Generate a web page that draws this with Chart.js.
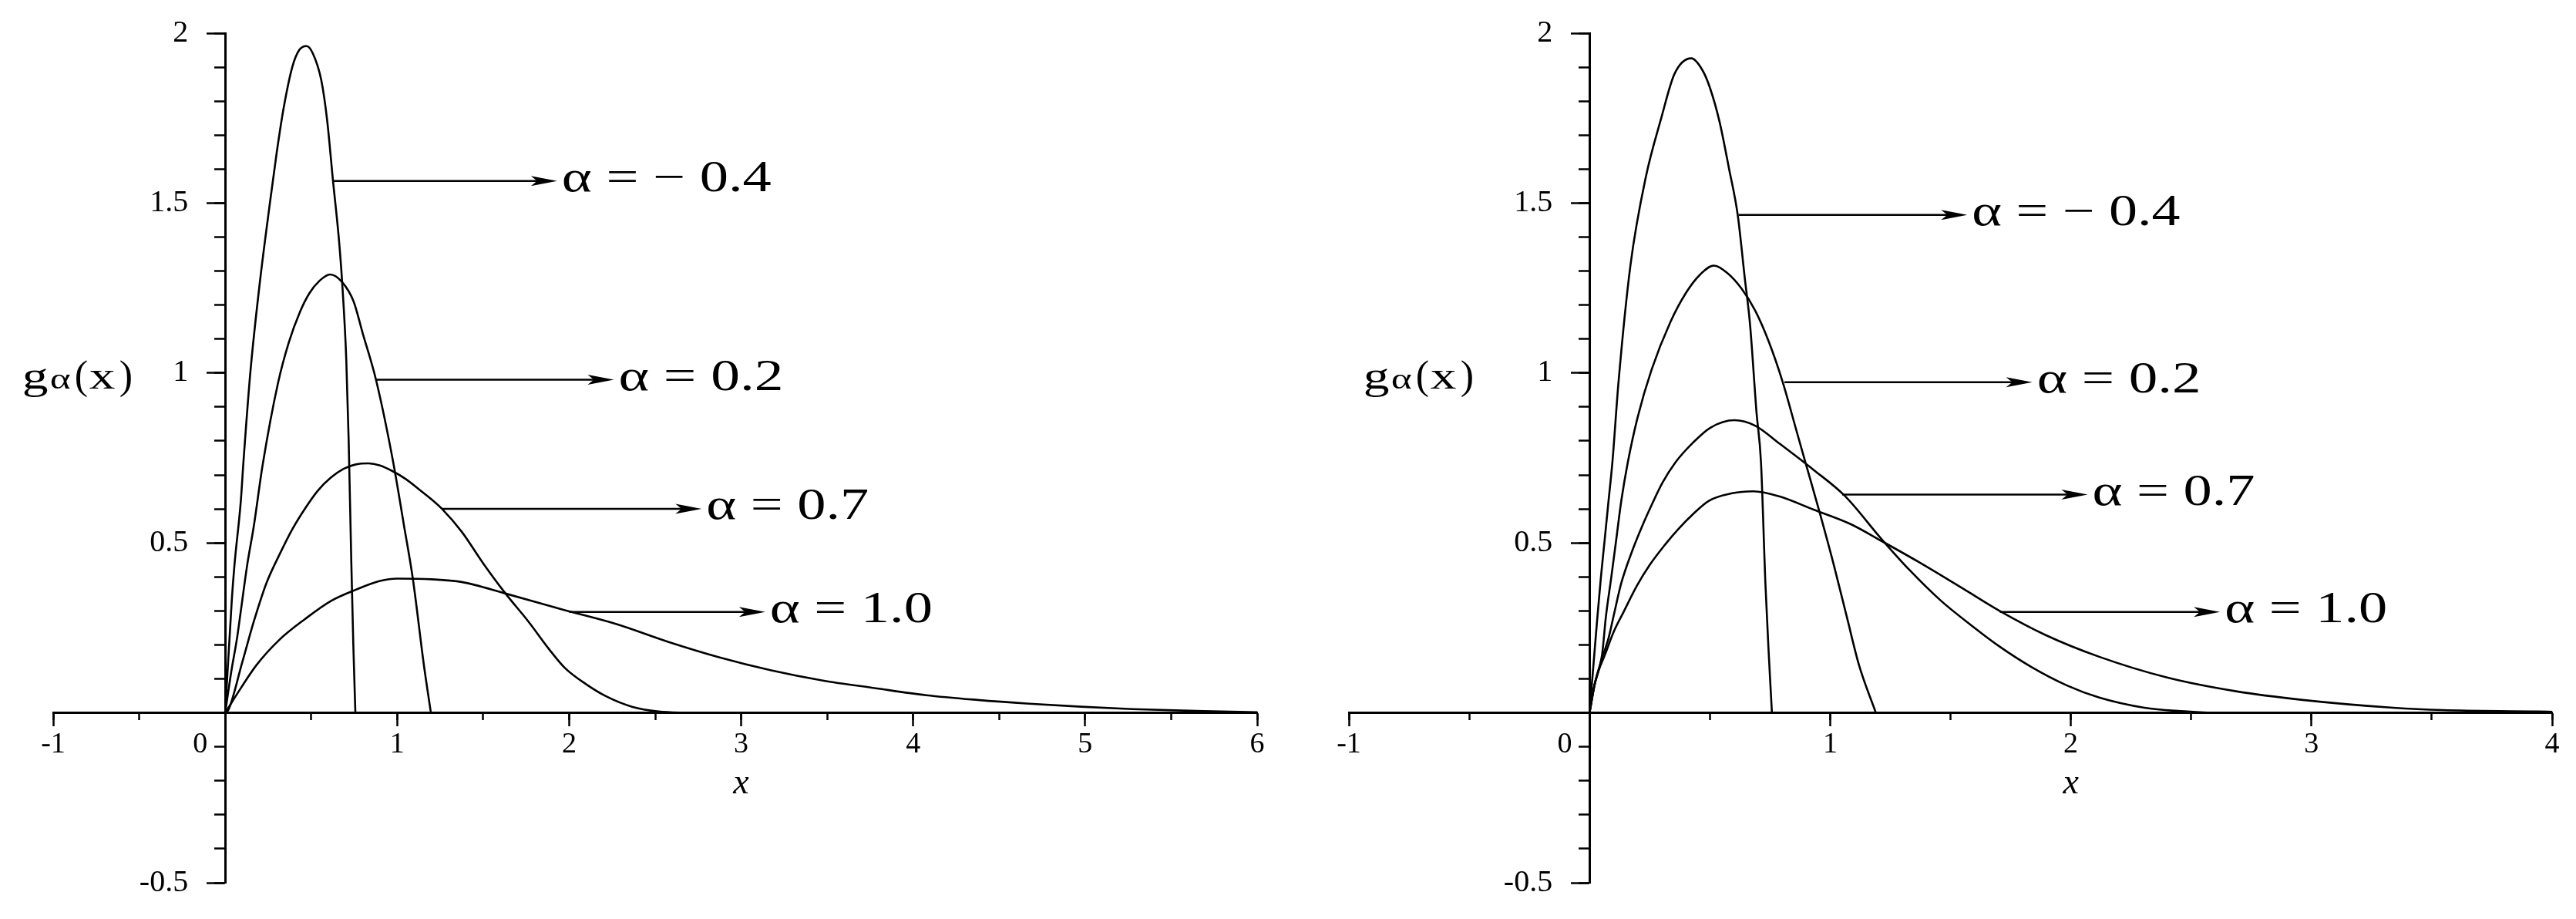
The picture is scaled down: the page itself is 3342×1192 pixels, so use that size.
<!DOCTYPE html>
<html>
<head>
<meta charset="utf-8">
<script src="https://cdn.jsdelivr.net/npm/chart.js@4/dist/chart.umd.min.js"></script>
<style>
    html, body { margin: 0; padding: 0; background: #fff; overflow: hidden; }
    #wrap { position: relative; width: 3342px; height: 1192px; }
    .panel { position: absolute; top: 0; width: 1671px; height: 1192px; }
</style>
</head>
<body>
<div id="wrap">
    <div class="panel" style="left:0"><canvas id="leftChart" width="1671" height="1192"></canvas></div>
    <div class="panel" style="left:1671px"><canvas id="rightChart" width="1671" height="1192"></canvas></div>
</div>
<script>
// tick values
const leftXTicks = [-1, 0, 1, 2, 3, 4, 5, 6];
const rightXTicks = [-1, 0, 1, 2, 3, 4];
const yTicks = [-0.5, 0.5, 1, 1.5, 2];
const yTickLabels = ['-0.5', '0.5', '1', '1.5', '2'];

// left panel curves
const leftNeg04X = [0, 0.039, 0.054, 0.091, 0.106, 0.146, 0.20, 0.26, 0.30, 0.34, 0.39, 0.43, 0.473, 0.51, 0.559, 0.593, 0.627, 0.66, 0.679, 0.704, 0.718, 0.733, 0.745, 0.757];
const leftNeg04Y = [0, 0.336, 0.435, 0.624, 0.737, 1.0, 1.26, 1.50, 1.65, 1.78, 1.90, 1.95, 1.962, 1.94, 1.861, 1.743, 1.565, 1.40, 1.275, 1.04, 0.80, 0.45, 0.20, 0];

const leftP02X = [0, 0.035, 0.069, 0.091, 0.128, 0.166, 0.218, 0.307, 0.37, 0.435, 0.49, 0.55, 0.61, 0.679, 0.747, 0.799, 0.876, 0.976, 1.04, 1.091, 1.156, 1.196];
const leftP02Y = [0, 0.12, 0.22, 0.30, 0.435, 0.548, 0.73, 0.97, 1.09, 1.18, 1.235, 1.272, 1.29, 1.268, 1.21, 1.118, 0.982, 0.74, 0.55, 0.395, 0.138, 0];

const leftP07X = [0, 0.02, 0.1, 0.166, 0.24, 0.315, 0.39, 0.464, 0.539, 0.614, 0.688, 0.76, 0.833, 0.9, 0.97, 1.05, 1.141, 1.2, 1.261, 1.375, 1.5, 1.63, 1.764, 1.885, 1.975, 2.096, 2.217, 2.365, 2.52, 2.7];
const leftP07Y = [0, 0.01, 0.15, 0.268, 0.382, 0.465, 0.54, 0.601, 0.654, 0.692, 0.718, 0.731, 0.734, 0.728, 0.712, 0.688, 0.652, 0.628, 0.6, 0.533, 0.44, 0.351, 0.268, 0.186, 0.132, 0.085, 0.048, 0.018, 0.004, 0];

const leftP10X = [0, 0.09, 0.181, 0.315, 0.464, 0.614, 0.763, 0.9, 1.0, 1.2, 1.375, 1.63, 1.975, 2.275, 2.575, 2.875, 3.175, 3.475, 3.775, 4.075, 4.375, 4.675, 4.975, 5.275, 5.69, 6.0];
const leftP10Y = [0, 0.072, 0.14, 0.215, 0.276, 0.329, 0.363, 0.388, 0.395, 0.393, 0.385, 0.351, 0.302, 0.261, 0.209, 0.163, 0.125, 0.095, 0.073, 0.052, 0.038, 0.027, 0.018, 0.011, 0.005, 0.002];

// right panel curves
const rightNeg04X = [0, 0.031, 0.047, 0.063, 0.079, 0.095, 0.12, 0.17, 0.234, 0.298, 0.353, 0.423, 0.47, 0.50, 0.54, 0.58, 0.616, 0.645, 0.667, 0.694, 0.7125, 0.731, 0.745, 0.758];
const rightNeg04Y = [0, 0.268, 0.397, 0.51, 0.624, 0.737, 0.97, 1.317, 1.577, 1.75, 1.88, 1.926, 1.89, 1.84, 1.74, 1.60, 1.464, 1.28, 1.143, 0.883, 0.737, 0.378, 0.17, 0];

const rightP02X = [0, 0.02, 0.052, 0.068, 0.09, 0.111, 0.132, 0.159, 0.2, 0.258, 0.336, 0.4, 0.46, 0.516, 0.573, 0.631, 0.688, 0.745, 0.802, 0.86, 0.9, 0.96, 1.017, 1.07, 1.12, 1.19];
const rightP02Y = [0, 0.08, 0.17, 0.283, 0.397, 0.51, 0.624, 0.737, 0.87, 1.01, 1.15, 1.235, 1.29, 1.316, 1.294, 1.249, 1.184, 1.092, 0.975, 0.83, 0.73, 0.58, 0.43, 0.28, 0.14, 0];

const rightP07X = [0, 0.02, 0.047, 0.079, 0.1, 0.132, 0.175, 0.218, 0.261, 0.303, 0.357, 0.43, 0.502, 0.602, 0.688, 0.788, 0.931, 1.06, 1.215, 1.33, 1.46, 1.591, 1.704, 1.836, 1.986, 2.118, 2.306, 2.456, 2.6];
const rightP07Y = [0, 0.08, 0.15, 0.22, 0.285, 0.382, 0.472, 0.548, 0.616, 0.677, 0.737, 0.795, 0.839, 0.861, 0.845, 0.793, 0.715, 0.639, 0.51, 0.42, 0.33, 0.255, 0.195, 0.135, 0.08, 0.045, 0.015, 0.005, 0];

const rightP10X = [0, 0.025, 0.068, 0.1, 0.143, 0.197, 0.25, 0.314, 0.368, 0.432, 0.496, 0.592, 0.681, 0.788, 0.931, 1.083, 1.215, 1.365, 1.553, 1.704, 1.892, 2.118, 2.4, 2.682, 2.964, 3.34, 3.547, 3.942, 4.0];
const rightP10Y = [0, 0.095, 0.178, 0.238, 0.299, 0.374, 0.435, 0.495, 0.54, 0.586, 0.624, 0.646, 0.652, 0.637, 0.598, 0.556, 0.505, 0.445, 0.365, 0.30, 0.23, 0.165, 0.104, 0.064, 0.038, 0.015, 0.008, 0.004, 0.003];

// arrow labels: start on the curve, tip, height (all in data units)
const leftNotes = [
    { from: 0.63, to: 1.93, y: 1.565, text: 'α = − 0.4', w: 272 },
    { from: 0.88, to: 2.26, y: 0.98, text: 'α = 0.2', w: 214 },
    { from: 1.26, to: 2.77, y: 0.60, text: 'α = 0.7', w: 211 },
    { from: 2.0, to: 3.14, y: 0.297, text: 'α = 1.0', w: 211 }
];
const rightNotes = [
    { from: 0.62, to: 1.57, y: 1.465, text: 'α = − 0.4', w: 270 },
    { from: 0.81, to: 1.84, y: 0.973, text: 'α = 0.2', w: 213 },
    { from: 1.05, to: 2.07, y: 0.642, text: 'α = 0.7', w: 211 },
    { from: 1.705, to: 2.62, y: 0.297, text: 'α = 1.0', w: 211 }
];

const SERIF = '"Liberation Serif", "Times New Roman", serif';

// pieces of the "gα(x)" label: text, font size, offset from its left edge, horizontal stretch
const yTitleParts = [['g', 50, 0, 1.35], ['α', 38, 36, 1.35], ['(', 52, 68, 1], ['x', 50, 87, 1.35], [')', 52, 126, 1]];

function curve(xs, ys) {
    return {
        data: xs.map((x, i) => ({ x: x, y: ys[i] })),
        borderColor: '#000',
        borderWidth: 2.6,
        pointRadius: 0,
        fill: false,
        cubicInterpolationMode: 'monotone'
    };
}

function stretchText(ctx, text, x, y, width) {
    const w = ctx.measureText(text).width;
    ctx.save();
    ctx.translate(x, y);
    ctx.scale(width / w, 1);
    ctx.fillText(text, 0, 0);
    ctx.restore();
}

function makeScales(xMax, xTicks) {
    const noHeight = s => { s.height = 0; };
    const noWidth = s => { s.width = 0; };
    return {
        x: {
            type: 'linear', min: -1, max: xMax, position: { y: 0 },
            afterFit: noHeight,
            afterBuildTicks: s => { s.ticks = xTicks.map(v => ({ value: v })); },
            ticks: {
                autoSkip: false, maxRotation: 0, padding: 3, color: '#000',
                font: { family: SERIF, size: 38 },
                // "0" sits just left of the vertical axis, as in the source
                callback: v => v === 0 ? '0\u2003\u2002\u2009' : String(v)
            },
            grid: { drawOnChartArea: false, tickLength: 16, tickWidth: 2.5, tickColor: '#000' },
            border: { color: '#000', width: 3 }
        },
        xMinor: {
            type: 'linear', min: -1, max: xMax, position: { y: 0 },
            afterFit: noHeight,
            ticks: { display: false, stepSize: 0.5, maxTicksLimit: 100 },
            grid: { drawOnChartArea: false, tickLength: 9, tickWidth: 2.5, tickColor: '#000' },
            border: { display: false }
        },
        y: {
            type: 'linear', min: -0.5, max: 2, position: { x: 0 },
            afterFit: noWidth,
            afterBuildTicks: s => { s.ticks = yTicks.map(v => ({ value: v })); },
            ticks: {
                autoSkip: false, padding: 0, color: '#000',
                font: { family: SERIF, size: 40 },
                // positioned y axes put labels right on the axis line; pad them off it
                callback: (v, i) => yTickLabels[i] + '\u2003\u2009'
            },
            grid: { drawOnChartArea: false, tickLength: 23, tickWidth: 2.5, tickColor: '#000' },
            border: { color: '#000', width: 3 }
        },
        yMinor: {
            type: 'linear', min: -0.5, max: 2, position: { x: 0 },
            afterFit: noWidth,
            ticks: { display: false, stepSize: 0.1, maxTicksLimit: 100 },
            grid: { drawOnChartArea: false, tickLength: 14, tickWidth: 2.5, tickColor: '#000' },
            border: { display: false }
        }
    };
}

const notesPlugin = {
    id: 'notes',
    afterDraw(chart, args, opts) {
        const { ctx } = chart;
        const xs = chart.scales.x, ys = chart.scales.y;
        ctx.save();
        ctx.fillStyle = '#000';
        ctx.strokeStyle = '#000';
        ctx.textAlign = 'left';
        ctx.textBaseline = 'alphabetic';

        opts.arrows.forEach(a => {
            const x0 = xs.getPixelForValue(a.from);
            const x1 = xs.getPixelForValue(a.to);
            const py = ys.getPixelForValue(a.y);
            ctx.lineWidth = 2.5;
            ctx.beginPath();
            ctx.moveTo(x0, py);
            ctx.lineTo(x1 - 24, py);
            ctx.stroke();
            ctx.beginPath();
            ctx.moveTo(x1, py);
            ctx.lineTo(x1 - 34, py - 6.5);
            ctx.lineTo(x1 - 26, py);
            ctx.lineTo(x1 - 34, py + 6.5);
            ctx.closePath();
            ctx.fill();
            ctx.font = '56px ' + SERIF;
            stretchText(ctx, a.text, x1 + 6, py + 13, a.w);
        });

        // g_alpha(x) label beside the y axis
        const tx = xs.getPixelForValue(opts.yTitleAt);
        const ty = ys.getPixelForValue(1) + 20;
        yTitleParts.forEach(p => {
            ctx.font = p[1] + 'px ' + SERIF;
            ctx.save();
            ctx.translate(tx + p[2], ty);
            ctx.scale(p[3], 1);
            ctx.fillText(p[0], 0, 0);
            ctx.restore();
        });

        // x label under the positive half of the axis
        ctx.font = 'italic 46px ' + SERIF;
        ctx.textAlign = 'center';
        ctx.fillText('x', xs.getPixelForValue(opts.xTitleAt), ys.getPixelForValue(0) + 104);
        ctx.restore();
    }
};

function buildChart(id, curves, xMax, xTicks, notes, yTitleAt, xTitleAt, pad) {
    return new Chart(document.getElementById(id), {
        type: 'line',
        data: { datasets: curves },
        options: {
            responsive: false,
            animation: false,
            devicePixelRatio: 1,
            layout: { padding: pad },
            plugins: {
                legend: { display: false },
                tooltip: { enabled: false },
                notes: { arrows: notes, yTitleAt: yTitleAt, xTitleAt: xTitleAt }
            },
            scales: makeScales(xMax, xTicks)
        },
        plugins: [notesPlugin]
    });
}

buildChart('leftChart', [
    curve(leftNeg04X, leftNeg04Y),
    curve(leftP02X, leftP02Y),
    curve(leftP07X, leftP07Y),
    curve(leftP10X, leftP10Y)
], 6, leftXTicks, leftNotes, -1.18, 3, { left: 69, right: 40, top: 43, bottom: 47 });

buildChart('rightChart', [
    curve(rightNeg04X, rightNeg04Y),
    curve(rightP02X, rightP02Y),
    curve(rightP07X, rightP07Y),
    curve(rightP10X, rightP10Y)
], 4, rightXTicks, rightNotes, -0.94, 2, { left: 79, right: 31, top: 43, bottom: 47 });
</script>
</body>
</html>
